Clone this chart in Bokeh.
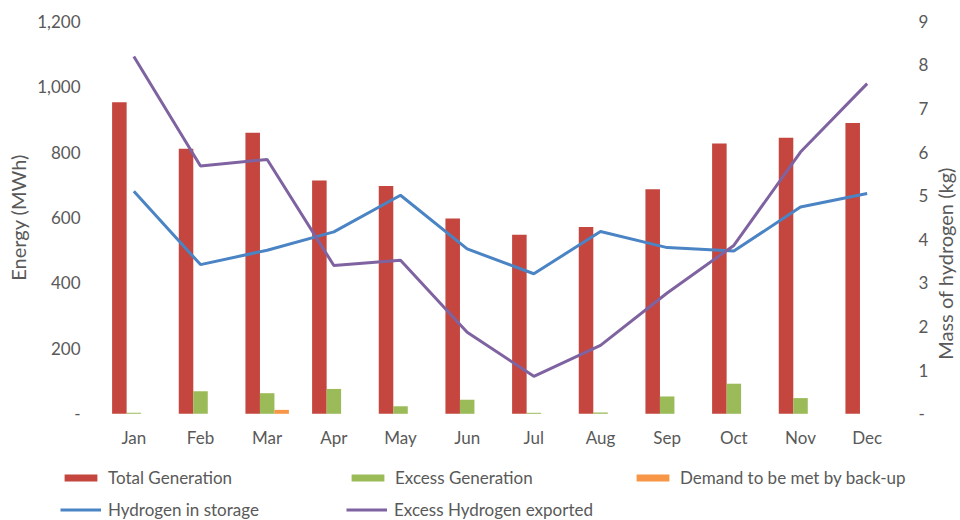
import math
from bokeh.plotting import figure
from bokeh.models import (Range1d, LinearAxis, FixedTicker, Legend, LegendItem,
                          ColumnDataSource, Label)
from bokeh.embed import file_html
from bokeh.resources import INLINE

months = ["Jan", "Feb", "Mar", "Apr", "May", "Jun", "Jul", "Aug", "Sep", "Oct", "Nov", "Dec"]
total_generation = [952, 810, 859, 713, 696, 597, 547, 571, 686, 826, 844, 889]
excess_generation = [3, 69, 63, 76, 23, 43, 3, 4, 53, 92, 48, 0]
backup_demand = [0, 0, 12, 0, 0, 0, 0, 0, 0, 0, 0, 0]
hydrogen_storage = [5.10, 3.42, 3.75, 4.17, 5.01, 3.78, 3.21, 4.18, 3.81, 3.73, 4.74, 5.05]
hydrogen_exported = [8.19, 5.68, 5.83, 3.40, 3.52, 1.87, 0.86, 1.57, 2.77, 3.86, 6.00, 7.57]
energy_ticks = [0, 200, 400, 600, 800, 1000, 1200]
energy_tick_labels = ["-", "200", "400", "600", "800", "1,000", "1,200"]
mass_ticks = [0, 1, 2, 3, 4, 5, 6, 7, 8, 9]
mass_tick_labels = ["-", "1", "2", "3", "4", "5", "6", "7", "8", "9"]
series_names = ["Total Generation", "Excess Generation", "Demand to be met by back-up",
                "Hydrogen in storage", "Excess Hydrogen exported"]

FONT = "Lato"
GRAY = "#595959"
RED = "#C4463F"
GREEN = "#9BBB59"
ORANGE = "#F79646"
BLUE = "#4A84C4"
PURPLE = "#7F63A1"

# layout (pixels): the plotting area of the reference chart
W, H = 960, 520
AREA_L, AREA_R, AREA_T, AREA_B = 100.0, 900.0, 20.7, 413.3

n = len(months)
x0, x1 = -0.5, n - 0.5
ppx = (AREA_R - AREA_L) / (x1 - x0)
e_max, m_max = energy_ticks[-1], mass_ticks[-1]
ppe = (AREA_B - AREA_T) / e_max
ppm = (AREA_B - AREA_T) / m_max

x_range = Range1d(x0 - AREA_L / ppx, x1 + (W - AREA_R) / ppx)
y_range = Range1d(-(H - AREA_B) / ppe, e_max + AREA_T / ppe)
h2_range = Range1d(-(H - AREA_B) / ppm, m_max + AREA_T / ppm)

xs = list(range(n))
src = ColumnDataSource(dict(
    x=xs,
    x_red=[x - 0.217 for x in xs],
    x_green=xs,
    x_orange=[x + 0.217 for x in xs],
    total=total_generation,
    excess=excess_generation,
    backup=backup_demand,
    storage=hydrogen_storage,
    exported=hydrogen_exported,
))

p = figure(width=W, height=H, output_backend="svg", toolbar_location=None,
           x_range=x_range, y_range=y_range, x_axis_type=None, y_axis_type=None,
           min_border_left=0, min_border_right=0, min_border_top=0, min_border_bottom=0)
p.outline_line_color = None
p.extra_y_ranges = {"h2": h2_range}

p.xgrid.visible = False
p.ygrid.grid_line_color = "#D9D9D9"
p.ygrid.grid_line_width = 1
p.ygrid.ticker = FixedTicker(ticks=energy_ticks)
p.ygrid.cross_bounds = (x0, x1)

r_total = p.vbar(x="x_red", top="total", width=0.218, source=src, color=RED, line_color=None)
r_excess = p.vbar(x="x_green", top="excess", width=0.218, source=src, color=GREEN, line_color=None)
r_backup = p.vbar(x="x_orange", top="backup", width=0.218, source=src, color=ORANGE, line_color=None)
r_storage = p.line(x="x", y="storage", source=src, y_range_name="h2", line_color=BLUE, line_width=3)
r_export = p.line(x="x", y="exported", source=src, y_range_name="h2", line_color=PURPLE, line_width=3)

xa = LinearAxis(ticker=FixedTicker(ticks=xs), fixed_location=0, bounds=(x0, x1))
xa.major_label_overrides = {i: m for i, m in enumerate(months)}
xa.major_label_standoff = 7
p.add_layout(xa, "below")

ya = LinearAxis(ticker=FixedTicker(ticks=energy_ticks), fixed_location=x0, bounds=(0, e_max))
ya.major_label_overrides = {t: l for t, l in zip(energy_ticks, energy_tick_labels)}
ya.axis_label = "Energy (MWh)"
ya.major_label_standoff = 14
ya.axis_label_standoff = 4
p.add_layout(ya, "left")

ra = LinearAxis(y_range_name="h2", ticker=FixedTicker(ticks=mass_ticks), fixed_location=x1,
                bounds=(0, m_max))
ra.major_label_overrides = {t: l for t, l in zip(mass_ticks, mass_tick_labels)}
ra.major_label_standoff = 12
p.add_layout(ra, "right")

for ax in [xa, ya, ra]:
    ax.axis_line_color = None
    ax.major_tick_line_color = None
    ax.minor_tick_line_color = None
    ax.major_label_text_font = FONT
    ax.major_label_text_font_size = "17px"
    ax.major_label_text_color = GRAY
    ax.axis_label_text_font = FONT
    ax.axis_label_text_font_size = "20px"
    ax.axis_label_text_font_style = "normal"
    ax.axis_label_text_color = GRAY

# right axis title (sits a little below the middle of the axis in the reference)
p.add_layout(Label(x=944, y=H - 263, x_units="screen", y_units="screen",
                   text="Mass of hydrogen (kg)", angle=math.pi / 2,
                   text_align="center", text_baseline="middle",
                   text_font=FONT, text_font_size="20px", text_color=GRAY))

def add_legend(label, renderer, x, y, lh):
    lg = Legend(items=[LegendItem(label=label, renderers=[renderer])],
                location=(x, y), padding=0, margin=0, spacing=0,
                glyph_width=41, glyph_height=9, label_height=lh, label_standoff=7,
                label_text_font=FONT, label_text_font_size="17px", label_text_color=GRAY,
                border_line_color=None, background_fill_alpha=0)
    p.add_layout(lg)

add_legend(series_names[0], r_total, 60, 32, 20)
add_legend(series_names[1], r_excess, 347, 32, 20)
add_legend(series_names[2], r_backup, 632, 32, 20)
add_legend(series_names[3], r_storage, 60, 0, 14)
add_legend(series_names[4], r_export, 346, 0, 14)

open("out.html", "w").write(file_html(p, INLINE))
